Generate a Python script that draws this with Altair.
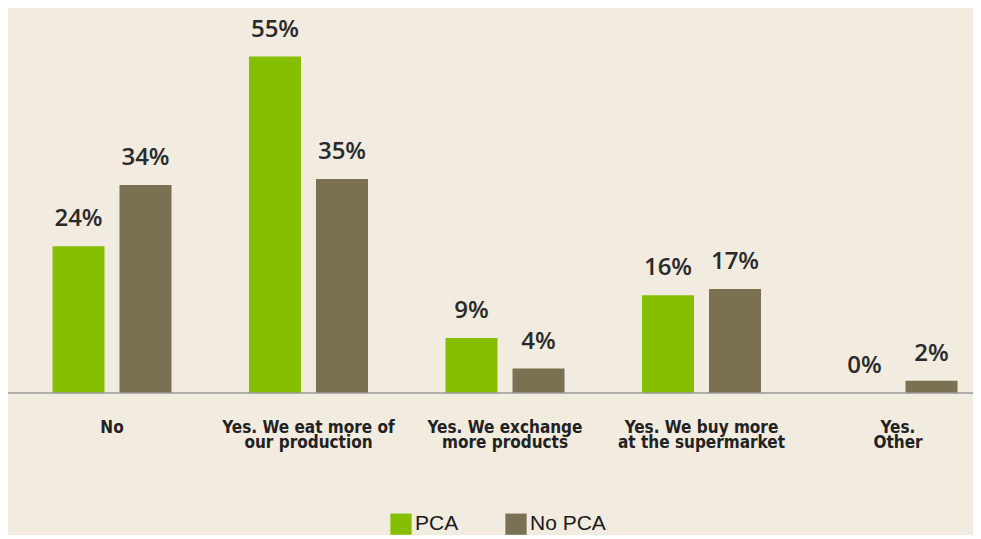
import altair as alt
import pandas as pd

categories = [
    "No",
    "Yes. We eat more of\nour production",
    "Yes. We exchange\nmore products",
    "Yes. We buy more\nat the supermarket",
    "Yes.\nOther",
]
groups = ["PCA", "No PCA"]
pca = [24, 55, 9, 16, 0]
no_pca = [34, 35, 4, 17, 2]
colors = ["#86BF00", "#7A7152"]

rows = []
for c, a, b in zip(categories, pca, no_pca):
    rows.append({"cat": c, "group": "PCA", "value": a, "label": f"{a}%"})
    rows.append({"cat": c, "group": "No PCA", "value": b, "label": f"{b}%"})
df = pd.DataFrame(rows)

W = 965
H = 367

x = alt.X(
    "cat:N",
    sort=categories,
    scale=alt.Scale(range=[44.5, 949.5], paddingInner=0.3944, paddingOuter=0),
    axis=alt.Axis(
        title=None,
        domain=False,
        ticks=False,
        labelAngle=0,
        labelExpr="split(datum.label, '\\n')",
        labelFont="DejaVu Sans Condensed",
        labelFontSize=17,
        labelFontWeight="bold",
        labelColor="#222222",
        labelLineHeight=15,
        labelBaseline="top",
        labelPadding=26,
    ),
)
xoff = alt.XOffset(
    "group:N",
    sort=groups,
    scale=alt.Scale(domain=groups, paddingInner=0.224, paddingOuter=0),
)
y = alt.Y(
    "value:Q",
    scale=alt.Scale(domain=[0, 60], nice=False, zero=True),
    axis=None,
)

base = alt.Chart(df)

bars = base.mark_bar(cornerRadius=0).encode(
    x=x,
    xOffset=xoff,
    y=y,
    color=alt.Color(
        "group:N",
        sort=groups,
        scale=alt.Scale(domain=groups, range=colors),
        legend=alt.Legend(
            title=None,
            orient="none",
            direction="horizontal",
            legendX=382,
            legendY=487,
            symbolType="square",
            symbolSize=450,
            symbolStrokeWidth=0,
            symbolOpacity=1,
            labelFont="Liberation Sans",
            labelFontSize=21,
            labelColor="#1a1a1a",
            labelOffset=3,
            columnPadding=46,
        ),
    ),
)

texts = base.mark_text(
    baseline="alphabetic",
    align="center",
    dy=-20,
    font="Open Sans",
    fontSize=24,
    fontWeight=600,
    color="#2a2a2a",
).encode(x=x, xOffset=xoff, y=y, text="label:N")

baseline = (
    alt.Chart(pd.DataFrame({"v": [0]}))
    .mark_rule(color="#9a9a9a", strokeWidth=1.5)
    .encode(x=alt.value(-1), x2=alt.value(W), y=alt.Y("v:Q", scale=alt.Scale(domain=[0, 60], nice=False), axis=None))
)

chart = (
    alt.layer(bars, texts, baseline)
    .properties(
        width=W,
        height=H,
        background="#F1EBE0",
        autosize=alt.AutoSizeParams(type="none"),
        padding={"left": 0, "top": 18, "right": 0, "bottom": 142},
    )
    .configure_view(stroke=None)
)

chart.save("out.html", embed_options={"renderer": "svg", "actions": False})
